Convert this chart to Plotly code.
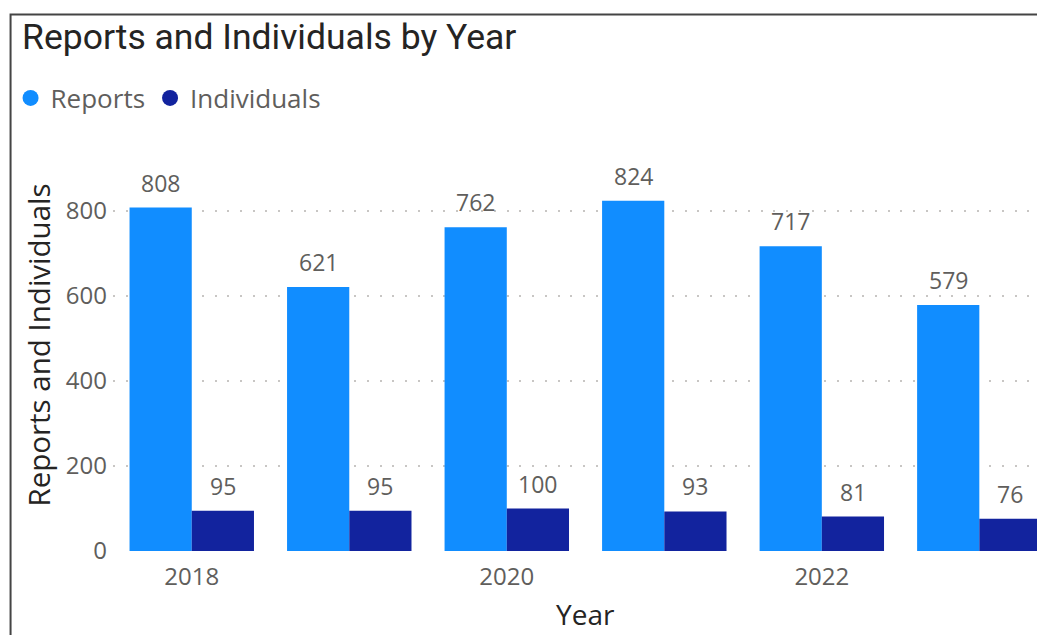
import plotly.graph_objects as go

years = [2018, 2019, 2020, 2021, 2022, 2023]
reports = [808, 621, 762, 824, 717, 579]
individuals = [95, 95, 100, 93, 81, 76]
series_names = ["Reports", "Individuals"]
series_colors = ["#118DFF", "#12239E"]
x_ticks = [2018, 2020, 2022]
y_ticks = [0, 200, 400, 600, 800]

W, H = 1037, 635
PL, PR, PT, PB = 112.5, 1037, 139, 551   # plot area in pixels
def px_x(p):
    return (p - PL) / (PR - PL)
def px_y(p):
    return (PB - p) / (PB - PT)

cat_px = 157.6
bargap = 0.21
bar_px = cat_px * (1 - bargap) / 2
x_lo = years[0] - 0.5
x_hi = x_lo + (PR - PL) / cat_px
y_hi = (PB - PT) / 0.425

fig = go.Figure()
for i, (name, vals, col) in enumerate(zip(series_names, [reports, individuals], series_colors)):
    fig.add_trace(go.Bar(
        x=years, y=vals, name=name, marker=dict(color=col, line=dict(width=0)),
        showlegend=False, cliponaxis=False,
    ))
    fig.add_trace(go.Scatter(
        x=[None], y=[None], mode="markers", name=name,
        marker=dict(color=col, size=16, symbol="circle"),
    ))
    shift = (i - 0.5) * bar_px
    for yr, v in zip(years, vals):
        fig.add_annotation(x=yr, y=v, text=str(v), showarrow=False, xshift=shift, yshift=7,
                           xanchor="center", yanchor="bottom",
                           font=dict(family="Open Sans", size=23, color="#605E5C"))

fig.update_layout(
    width=W, height=H,
    margin=dict(l=PL, r=W - PR, t=PT, b=H - PB),
    paper_bgcolor="white", plot_bgcolor="white",
    barmode="group", bargap=bargap, bargroupgap=0,
    title=dict(text="Reports and Individuals by Year", x=22 / W, xanchor="left",
               y=1 - 37 / H, yanchor="middle", yref="container",
               font=dict(family="Roboto", size=35.5, color="#252423")),
    legend=dict(orientation="h", x=px_x(10), xanchor="left", y=px_y(98), yanchor="middle",
                font=dict(family="Open Sans", size=26, color="#605E5C"),
                itemwidth=30, bgcolor="rgba(0,0,0,0)"),
    xaxis=dict(range=[x_lo, x_hi], tickvals=x_ticks, ticks="", showgrid=False, showline=False,
               zeroline=False, tickfont=dict(family="Open Sans", size=24, color="#605E5C"),
               ticklabelstandoff=9),
    yaxis=dict(range=[0, y_hi], tickvals=y_ticks, ticks="", showline=False, zeroline=False,
               showgrid=True, gridcolor="#C8C6C4", gridwidth=1.5, griddash="2px,10.7px",
               tickfont=dict(family="Open Sans", size=24, color="#605E5C"),
               ticklabelstandoff=5),
    font=dict(family="Open Sans"),
)

fig.add_annotation(text="Reports and Individuals", textangle=-90, xref="paper", yref="paper",
                   x=px_x(37), y=0.5, showarrow=False, xanchor="center", yanchor="middle",
                   font=dict(family="Open Sans", size=29.5, color="#252423"))
fig.add_annotation(text="Year", xref="paper", yref="paper", x=px_x(585), y=px_y(614),
                   showarrow=False, xanchor="center", yanchor="middle",
                   font=dict(family="Open Sans", size=28, color="#252423"))

fig.add_shape(type="rect", xref="paper", yref="paper",
              x0=px_x(10), y0=px_y(700), x1=px_x(1100), y1=px_y(14.5),
              line=dict(color="#444444", width=2), fillcolor="rgba(0,0,0,0)", layer="above")

fig.write_html("out.html", config={"displayModeBar": False},
               post_script="document.body.style.margin='0';document.body.style.overflow='hidden';")
